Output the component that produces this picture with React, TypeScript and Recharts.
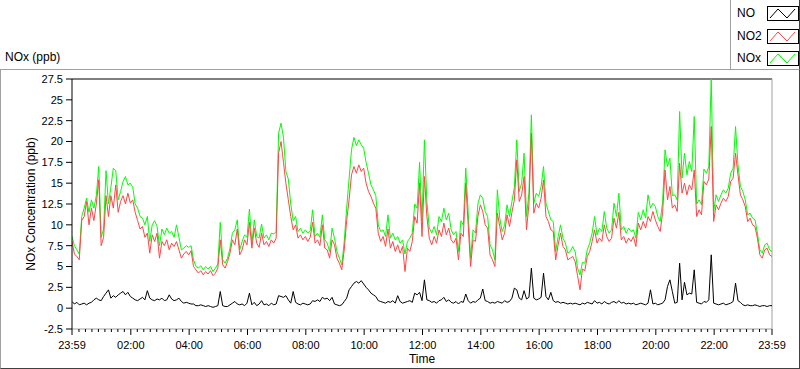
import React from 'react';
import { LineChart, Line, XAxis, YAxis, ReferenceLine, Legend } from 'recharts';

const SAMPLE_MINUTES = 5;

const NO2_VALUES = [
  8.0, 6.5, 6.2, 5.8, 10.5, 11.0, 12.8, 10.0, 12.0, 10.5,
  12.5, 15.4, 7.5, 8.5, 13.5, 11.0, 13.5, 12.0, 14.8, 11.5,
  12.8, 13.5, 12.5, 13.8, 12.6, 13.0, 11.5, 10.5, 9.5, 9.8,
  8.5, 9.0, 6.6, 8.8, 8.0, 9.0, 6.0, 8.0, 7.5, 8.2,
  7.0, 7.8, 7.4, 8.0, 7.0, 6.0, 6.5, 6.8, 6.4, 6.9,
  5.0, 4.6, 4.2, 4.5, 4.0, 4.4, 4.1, 4.5, 3.9, 4.2,
  4.8, 8.2, 5.2, 4.8, 5.6, 6.6, 8.2, 7.6, 9.5, 6.4,
  7.0, 8.2, 7.6, 10.3, 7.2, 9.6, 7.8, 7.3, 9.0, 7.6,
  8.0, 7.4, 8.2, 7.8, 8.4, 18.6, 20.0, 17.5, 15.0, 13.0,
  11.0, 9.4, 10.0, 8.4, 8.8, 8.2, 8.6, 8.0, 8.5, 10.3,
  7.8, 8.2, 7.5, 10.0, 7.2, 7.0, 6.0, 8.2, 7.6, 6.0,
  5.4, 4.6, 7.0, 10.5, 13.0, 16.0, 17.0, 16.2, 17.2, 16.4,
  16.8, 15.0, 14.0, 13.4, 12.6, 12.0, 9.0, 8.0, 8.6, 7.4,
  9.5, 7.2, 8.0, 6.8, 7.6, 6.6, 7.4, 4.4, 7.2, 6.8,
  8.0, 11.0, 10.2, 15.0, 8.6, 15.8, 11.0, 8.4, 7.6, 8.6,
  7.8, 9.4, 8.6, 10.2, 8.8, 9.6, 8.2, 7.8, 8.4, 5.8,
  9.0, 8.6, 15.0, 10.0, 5.0, 8.2, 8.0, 11.0, 12.4, 11.6,
  10.0, 9.6, 6.4, 5.8, 5.0, 11.4, 9.8, 8.2, 9.0, 11.2,
  9.8, 11.5, 13.0, 17.8, 12.8, 13.6, 15.8, 9.4, 12.5, 21.0,
  11.4, 12.6, 12.0, 13.2, 15.4, 11.0, 10.4, 9.4, 9.2, 5.8,
  7.6, 9.0, 7.4, 7.0, 5.8, 6.0, 6.2, 5.6, 3.9, 2.2,
  4.7, 4.5, 6.2, 6.8, 8.0, 9.4, 7.8, 8.4, 8.0, 10.0,
  8.6, 8.0, 8.4, 10.8, 9.6, 11.5, 8.2, 8.6, 7.8, 8.4,
  8.0, 8.6, 7.4, 10.2, 9.4, 10.4, 9.6, 11.0, 10.4, 11.6,
  10.6, 9.8, 9.2, 11.5, 16.6, 13.0, 14.6, 12.0, 12.4, 11.6,
  17.4, 13.8, 15.0, 13.6, 14.8, 14.2, 16.6, 11.0, 11.8, 11.2,
  15.2, 14.8, 15.5, 21.8, 10.4, 12.4, 11.8, 12.6, 13.2, 12.8,
  13.4, 15.2, 15.6, 18.6, 16.0, 13.6, 13.0, 12.2, 10.4, 10.8,
  10.0, 9.8, 8.4, 6.4, 6.0, 7.0, 7.2, 6.4, 6.2,
];

const NOX_VALUES = [
  8.6, 7.5, 7.0, 6.5, 11.0, 12.0, 13.2, 11.5, 13.0, 12.0,
  13.5, 17.0, 8.5, 9.5, 16.5, 12.5, 14.5, 16.8, 16.5, 13.0,
  14.0, 15.2, 15.8, 14.8, 15.0, 14.5, 12.5, 12.0, 11.0, 10.8,
  10.0, 11.0, 8.0, 10.0, 10.5, 9.8, 7.5, 9.5, 8.8, 9.6,
  9.0, 9.2, 8.5, 10.0, 8.5, 7.0, 7.2, 7.5, 7.3, 7.5,
  5.8, 5.0, 4.8, 5.1, 4.6, 5.0, 4.7, 5.0, 4.4, 4.8,
  5.3, 10.3, 5.8, 5.4, 6.0, 7.2, 9.0, 9.4, 10.6, 7.0,
  8.0, 8.8, 8.5, 11.9, 7.8, 10.6, 8.6, 8.4, 10.1, 8.4,
  8.8, 8.2, 9.0, 8.9, 9.2, 21.0, 22.2, 20.5, 16.4, 15.5,
  12.5, 10.5, 11.0, 9.2, 9.6, 9.0, 9.4, 9.0, 9.3, 11.8,
  8.6, 9.0, 8.5, 11.2, 8.2, 7.8, 6.8, 9.6, 8.4, 6.8,
  6.0, 5.2, 8.0, 12.0, 15.5, 19.0, 20.5, 19.5, 20.2, 19.6,
  19.2, 17.5, 16.2, 14.8, 14.2, 13.5, 10.0, 9.2, 9.4, 8.6,
  11.2, 8.4, 9.0, 8.2, 8.6, 7.8, 8.2, 6.5, 8.0, 8.4,
  9.0, 12.5, 12.0, 17.5, 10.5, 20.2, 12.8, 9.6, 9.0, 9.8,
  8.8, 11.0, 10.4, 12.0, 10.6, 11.4, 9.4, 8.8, 9.2, 6.8,
  10.5, 10.0, 16.8, 11.5, 6.0, 9.4, 9.0, 12.5, 13.6, 13.2,
  11.6, 11.0, 7.6, 7.0, 5.8, 14.2, 10.8, 9.2, 10.0, 12.4,
  11.0, 12.8, 14.5, 20.2, 14.0, 15.0, 18.6, 11.0, 13.8, 23.2,
  12.6, 13.8, 13.4, 14.6, 17.0, 12.6, 11.6, 10.6, 10.4, 6.8,
  8.6, 10.0, 8.4, 7.8, 6.6, 6.8, 7.4, 6.8, 4.8, 4.0,
  5.5, 5.4, 7.0, 7.8, 9.0, 11.0, 8.8, 9.6, 9.2, 11.6,
  9.6, 9.0, 9.4, 12.6, 11.0, 13.8, 9.4, 9.8, 9.0, 9.6,
  9.2, 9.4, 8.4, 11.5, 10.6, 11.8, 10.8, 13.6, 12.0, 12.6,
  12.2, 11.0, 10.4, 12.8, 19.0, 17.0, 18.0, 13.5, 13.6, 13.0,
  23.6, 15.6, 18.6, 16.0, 17.6, 16.4, 23.0, 12.5, 13.0, 12.4,
  16.7, 16.2, 17.0, 27.6, 11.6, 13.6, 12.8, 13.6, 14.2, 13.8,
  14.4, 16.2, 16.8, 21.8, 17.2, 14.6, 14.0, 13.0, 11.2, 11.4,
  10.8, 10.6, 9.0, 7.0, 6.6, 7.6, 7.8, 7.0, 6.8,
];

const NO_VALUES = [
  0.8, 0.5, 0.7, 0.4, 0.5, 0.6, 0.4, 0.6, 0.7, 1.0,
  1.2, 1.0, 0.9, 1.4, 1.8, 2.2, 1.2, 1.5, 1.3, 1.6,
  1.8, 2.0, 1.6, 1.9, 1.4, 1.2, 1.0, 0.9, 1.1, 1.3,
  1.0, 2.1, 1.2, 1.0, 0.9, 1.1, 1.0, 1.2, 0.9, 1.0,
  1.6, 1.1, 0.9, 1.0, 1.2, 0.8, 0.6, 0.7, 0.6, 0.5,
  0.5, 0.3, 0.3, 0.4, 0.3, 0.2, 0.3, 0.2, 0.1, 0.2,
  0.3, 2.0, 0.3, 0.2, 0.2, 0.4, 0.6, 0.8, 0.5, 0.4,
  0.5, 0.3, 0.6, 1.8, 0.4, 0.7, 0.3, 0.5, 0.9, 0.4,
  0.5, 0.3, 0.6, 0.4, 0.5, 1.5, 1.4, 1.3, 1.5, 1.0,
  0.6, 2.0, 0.7, 0.5, 0.4, 0.6, 0.5, 0.4, 0.5, 0.9,
  0.8, 1.0, 0.8, 1.3, 1.1, 1.2, 0.9, 1.3, 0.5, 0.4,
  0.3, 0.4, 0.8, 1.2, 2.2, 2.6, 3.0, 3.2, 3.0, 3.3,
  2.9, 2.5, 2.2, 1.8, 1.6, 1.4, 0.9, 0.8, 0.7, 0.6,
  0.8, 0.7, 0.9, 0.6, 1.5, 0.8, 0.6, 0.7, 0.8, 0.9,
  0.7, 1.8, 1.6, 1.9, 0.9, 3.4, 1.0, 0.9, 0.7, 0.8,
  0.6, 0.9, 1.0, 1.3, 0.8, 1.0, 0.7, 0.6, 0.8, 0.5,
  0.8, 0.7, 1.7, 0.9, 0.6, 0.8, 0.7, 1.0, 1.2, 2.3,
  0.9, 0.8, 0.6, 0.7, 0.6, 0.8, 0.7, 0.6, 0.9, 0.7,
  0.8, 1.2, 2.4, 2.2, 1.2, 1.0, 2.1, 1.1, 1.3, 4.8,
  1.2, 1.0, 1.1, 1.3, 4.2, 1.4, 1.0, 1.9, 0.9, 0.7,
  0.8, 0.6, 0.7, 0.6, 0.5, 0.6, 0.5, 0.6, 0.5, 0.4,
  0.6, 0.5, 0.7, 0.6, 0.5, 0.9, 0.6, 0.7, 0.5, 0.8,
  0.6, 0.5, 0.7, 0.8, 0.6, 0.9, 0.6, 0.7, 0.5, 0.6,
  0.5, 0.6, 0.4, 0.5, 0.6, 0.5, 0.4, 0.6, 2.2, 0.5,
  0.6, 0.4, 0.5, 0.6, 1.0, 2.6, 3.4, 2.0, 0.6, 0.7,
  5.4, 1.0, 3.1, 1.6, 1.8, 1.7, 4.6, 0.7, 0.6, 0.5,
  0.8, 0.7, 1.0, 6.4, 0.6, 0.5, 0.4, 0.5, 0.6, 0.4,
  0.5, 0.6, 0.8, 3.0, 0.9, 0.7, 0.4, 0.3, 0.4, 0.3,
  0.3, 0.4, 0.3, 0.2, 0.3, 0.3, 0.2, 0.3, 0.3,
];

const X_TICK_MINUTES = [0, 121, 241, 361, 481, 601, 721, 841, 961, 1081, 1201, 1321, 1440];
const X_TICK_LABELS = ['23:59', '02:00', '04:00', '06:00', '08:00', '10:00', '12:00', '14:00', '16:00', '18:00', '20:00', '22:00', '23:59'];
const Y_TICKS = [-2.5, 0, 2.5, 5, 7.5, 10, 12.5, 15, 17.5, 20, 22.5, 25, 27.5];

const SERIES = [
  { key: 'NO', label: 'NO', color: '#000000' },
  { key: 'NO2', label: 'NO2', color: '#ff4646' },
  { key: 'NOx', label: 'NOx', color: '#00ff00' },
];

const data = NO2_VALUES.map((v, i) => ({
  t: i * SAMPLE_MINUTES,
  NO: NO_VALUES[i],
  NO2: v,
  NOx: NOX_VALUES[i],
}));

const MINOR_STEP = 120 / 9;
const minorTicks: number[] = [];
for (let k = -8; k * MINOR_STEP + 121 < 1439; k++) {
  const t = 121 + k * MINOR_STEP;
  if (!X_TICK_MINUTES.some((m) => Math.abs(m - t) < 1)) minorTicks.push(t);
}
const ALL_X_TICKS = [...X_TICK_MINUTES, ...minorTicks].sort((a, b) => a - b);

const FONT = "'Liberation Sans', Arial, sans-serif";

const TimeTick = (props: any) => {
  const { x, y, payload } = props;
  const idx = X_TICK_MINUTES.findIndex((m) => Math.abs(m - payload.value) < 0.01);
  const major = idx >= 0;
  return (
    <g>
      <line x1={x} x2={x} y1={y} y2={y + (major ? 6 : 3)} stroke="#000" />
      {major && (
        <text x={x} y={y + 20} textAnchor="middle" fontSize={11} fill="#000" fontFamily={FONT}>
          {X_TICK_LABELS[idx]}
        </text>
      )}
    </g>
  );
};

const LegendBox = () => (
  <div
    style={{
      width: 70,
      height: 69,
      borderLeft: '1px solid #a0a0a0',
      borderRight: '1px solid #404040',
      boxSizing: 'border-box',
      position: 'relative',
      background: '#fff',
      fontFamily: FONT,
    }}
  >
    {SERIES.map((s, i) => (
      <React.Fragment key={s.key}>
        <div
          style={{
            position: 'absolute',
            left: 6,
            top: 5 + 22.5 * i,
            height: 17,
            lineHeight: '17px',
            fontSize: 12,
            color: '#000',
          }}
        >
          {s.label}
        </div>
        <svg style={{ position: 'absolute', left: 36, top: 6 + 22.5 * i }} width={32} height={15}>
          <rect x={0.5} y={0.5} width={31} height={14} fill="#fff" stroke="#000" />
          <polyline points="3,12 11,3 20,12 28,3" fill="none" stroke={s.color} />
        </svg>
      </React.Fragment>
    ))}
  </div>
);

export default function App() {
  return (
    <div
      style={{
        position: 'absolute',
        left: 0,
        top: 0,
        width: 800,
        height: 369,
        background: '#fff',
        fontFamily: FONT,
        overflow: 'hidden',
      }}
    >
      <div
        style={{
          position: 'absolute',
          left: 0,
          top: 69,
          width: 800,
          height: 300,
          boxSizing: 'border-box',
          borderTop: '1px solid #a0a0a0',
          borderLeft: '1px solid #a0a0a0',
          borderRight: '1px solid #404040',
          borderBottom: '1px solid #404040',
        }}
      />
      <div style={{ position: 'absolute', left: 5, top: 50, fontSize: 12, color: '#000', lineHeight: '14px' }}>
        NOx (ppb)
      </div>
      <div style={{ position: 'absolute', left: 0, top: 0 }}>
        <LineChart width={800} height={369} data={data} margin={{ top: 79, right: 28, bottom: 10, left: 12 }}>
          <XAxis
            dataKey="t"
            type="number"
            domain={[0, 1440]}
            ticks={ALL_X_TICKS}
            interval={0}
            tick={<TimeTick />}
            tickLine={false}
            tickSize={0}
            tickMargin={0}
            height={30}
            axisLine={{ stroke: '#a0a0a0' }}
            allowDataOverflow
            label={{ value: 'Time', position: 'insideBottom', offset: -4, fontSize: 12, fill: '#000' }}
          />
          <YAxis
            type="number"
            domain={[-2.5, 27.5]}
            ticks={Y_TICKS}
            interval={0}
            width={60}
            tickSize={6}
            tickMargin={3}
            tick={{ fill: '#000', fontSize: 11 }}
            tickLine={{ stroke: '#000' }}
            axisLine={{ stroke: '#000' }}
            allowDataOverflow
            label={{
              content: (p: any) => {
                const vb = p.viewBox || { x: 12, y: 79, height: 250 };
                const cx = vb.x + 19;
                const cy = vb.y + vb.height / 2;
                return (
                  <text
                    x={cx}
                    y={cy}
                    transform={`rotate(-90, ${cx}, ${cy})`}
                    textAnchor="middle"
                    dominantBaseline="central"
                    fontSize={12}
                    fill="#000"
                    fontFamily={FONT}
                  >
                    NOx Concentration (ppb)
                  </text>
                );
              },
            }}
          />
          <ReferenceLine y={27.5} stroke="#000" />
          <ReferenceLine x={1440} stroke="#a0a0a0" />
          <Legend
            layout="vertical"
            align="center"
            verticalAlign="middle"
            content={<LegendBox />}
            wrapperStyle={{ position: 'absolute', left: 730, top: 0, width: 70, height: 69 }}
          />
          <Line type="linear" dataKey="NOx" stroke="#00ff00" strokeWidth={1} dot={false} isAnimationActive={false} />
          <Line type="linear" dataKey="NO2" stroke="#ff4646" strokeWidth={1} dot={false} isAnimationActive={false} />
          <Line type="linear" dataKey="NO" stroke="#000000" strokeWidth={1} dot={false} isAnimationActive={false} />
        </LineChart>
      </div>
    </div>
  );
}
